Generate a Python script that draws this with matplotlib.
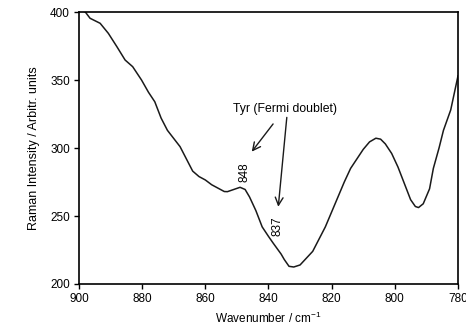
import matplotlib
matplotlib.use('Agg')
import matplotlib.pyplot as plt

plt.rcParams['font.family'] = ['Liberation Sans', 'DejaVu Sans']
plt.rcParams['mathtext.fontset'] = 'custom'
plt.rcParams['mathtext.rm'] = 'Liberation Sans'

# Raman spectrum
wavenumber = [899, 898, 896.5, 893.3, 890.7, 888, 885.4, 883, 880.2, 878, 876,
              874, 872, 870, 868, 866, 864, 862, 860, 858, 856, 854, 853,
              851, 849, 847.4, 846, 844, 842, 840, 838.5, 836, 835, 833.5,
              832, 830, 828, 826, 824, 822, 820, 818, 816, 814, 812, 810,
              808, 806, 804.5, 803, 801, 799, 797, 795, 793.5, 792.5, 791,
              789, 787.8, 786, 784.6, 782.3, 780]
intensity = [401, 400, 395.4, 391.7, 384.3, 374.5, 364.7, 359.8, 350, 341, 334,
             322, 313, 307, 301, 292, 283, 279, 276.5, 273, 270.5, 268, 267.9,
             269.5, 271.1, 269.5, 264, 254, 242, 235, 230, 222, 218, 213,
             212.5, 214, 219, 224, 233, 242, 253, 264, 275, 285, 292, 299,
             304.5, 307.2, 306.5, 303, 296, 286, 274, 262, 257, 256.2, 259,
             270, 285, 300, 313, 328, 353]

xticks = [900, 880, 860, 840, 820, 800, 780]
yticks = [200, 250, 300, 350, 400]

fig = plt.figure(figsize=(4.66, 3.30), dpi=100)
ax = fig.add_axes([0.1695, 0.1394, 0.8133, 0.8242])

ax.plot(wavenumber, intensity, color='#1a1a1a', lw=1.1)

ax.set_xlim(900, 780)
ax.set_ylim(200, 400)
ax.set_xticks(xticks)
ax.set_yticks(yticks)
ax.tick_params(direction='out', length=3.5, width=1, labelsize=8.5, pad=3)
for s in ax.spines.values():
    s.set_linewidth(1.2)

ax.set_xlabel('Wavenumber / cm$^{\\mathrm{-1}}$', fontsize=8.5, labelpad=4)
ax.set_ylabel('Raman Intensity / Arbitr. units', fontsize=9, labelpad=7)

# annotation with two arrows
ax.annotate('Tyr (Fermi doublet)', xy=(845.3, 297.3), xytext=(834.8, 329),
            fontsize=8.8, ha='center', va='center',
            arrowprops=dict(arrowstyle='->', color='#1a1a1a', lw=1,
                            shrinkA=6, shrinkB=0, mutation_scale=14))
ax.annotate('', xy=(836.9, 256.8), xytext=(834.2, 322.5),
            arrowprops=dict(arrowstyle='->', color='#1a1a1a', lw=1,
                            shrinkA=0, shrinkB=0, mutation_scale=14))
ax.text(847.6, 282.4, '848', rotation=90, fontsize=8.5, ha='center', va='center')
ax.text(837, 242.6, '837', rotation=90, fontsize=8.5, ha='center', va='center')

fig.savefig('out.png', dpi=100)
